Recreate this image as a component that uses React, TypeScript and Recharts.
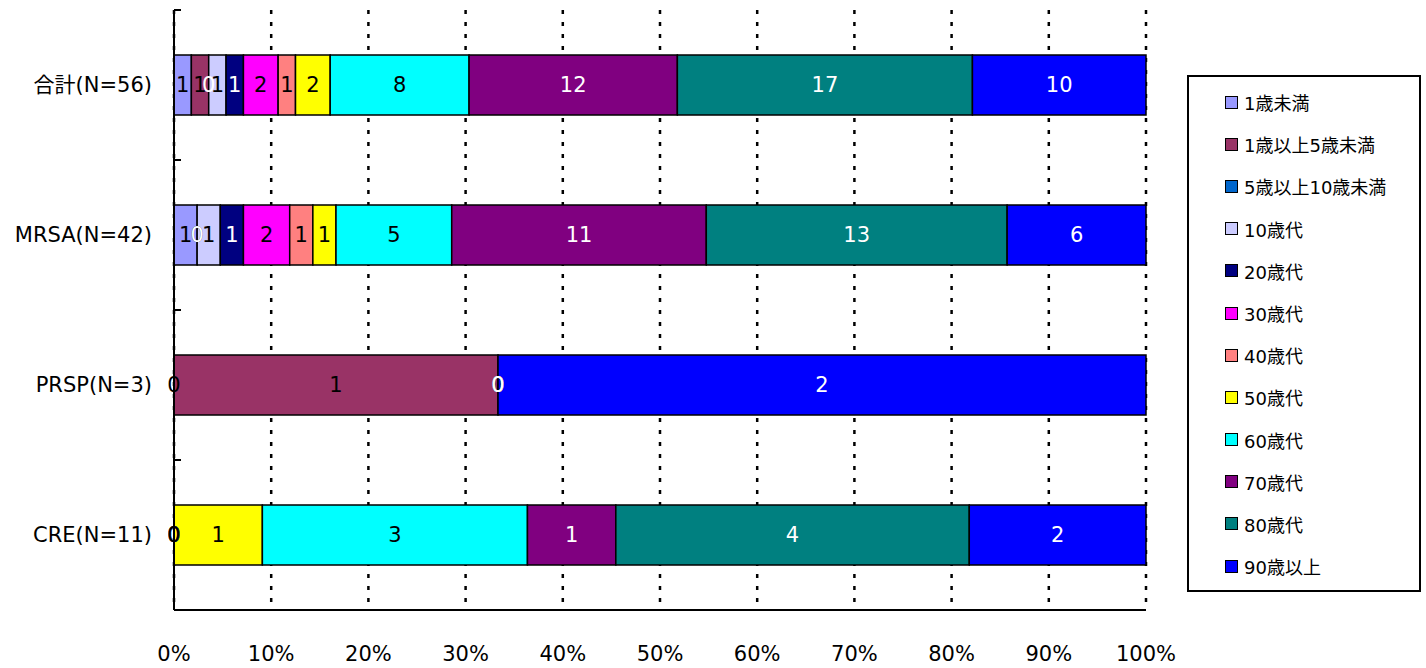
import React from "react";
import { BarChart, Bar, XAxis, YAxis, CartesianGrid, LabelList, Legend, Rectangle } from "recharts";

const categories = ["合計(N=56)", "MRSA(N=42)", "PRSP(N=3)", "CRE(N=11)"];
const ageGroups = [
    "1歳未満",
    "1歳以上5歳未満",
    "5歳以上10歳未満",
    "10歳代",
    "20歳代",
    "30歳代",
    "40歳代",
    "50歳代",
    "60歳代",
    "70歳代",
    "80歳代",
    "90歳以上",
];
const totalCounts = [1, 1, 0, 1, 1, 2, 1, 2, 8, 12, 17, 10];
const mrsaCounts = [1, 0, 0, 1, 1, 2, 1, 1, 5, 11, 13, 6];
const prspCounts = [0, 1, 0, 0, 0, 0, 0, 0, 0, 0, 0, 2];
const creCounts = [0, 0, 0, 0, 0, 0, 0, 1, 3, 1, 4, 2];
const xTicks = [0, 0.1, 0.2, 0.3, 0.4, 0.5, 0.6, 0.7, 0.8, 0.9, 1];

const COLORS = [
    "#9999ff", "#993366", "#0066cc", "#ccccff", "#000080", "#ff00ff",
    "#ff8080", "#ffff00", "#00ffff", "#800080", "#008080", "#0000ff",
];
const LABEL_COLORS = [
    "#000", "#000", "#fff", "#000", "#fff", "#000",
    "#000", "#000", "#000", "#fff", "#fff", "#fff",
];

const FONT = "'DejaVu Sans', 'Noto Sans CJK JP', sans-serif";
const LAST = ageGroups.length - 1;

const countsByCategory = [totalCounts, mrsaCounts, prspCounts, creCounts];
const rows = categories.map((name, c) => {
    const row: Record<string, string | number> = { name };
    ageGroups.forEach((_, i) => {
        row[`s${i}`] = countsByCategory[c][i];
    });
    return row;
});

// category label plus an inside tick at the top edge of each band
function CategoryTick(props: any) {
    const { x, y, payload } = props;
    const axisX = x + 22;
    const half = payload.offset ?? 75;
    return (
        <g>
            <line x1={axisX} x2={axisX + 7} y1={y - half} y2={y - half} stroke="#000" strokeWidth={2} />
            <text x={x} y={y} textAnchor="end" dominantBaseline="central" fontSize={21} fill="#000">
                {payload.value}
            </text>
        </g>
    );
}

// zero-width segments get no rect; the last segment (drawn on top of the row)
// also prints the "0" labels of the empty segments, as the original does
function makeShape(i: number) {
    return (props: any) => {
        const { x, y, width, height, payload } = props;
        const v = Number(payload?.[`s${i}`] ?? 0);
        if (v === 0) return <g />;
        if (i !== LAST) return <Rectangle {...props} />;

        const vals = ageGroups.map((_, k) => Number(payload[`s${k}`]));
        const total = vals.reduce((a, b) => a + b, 0);
        const plotW = (width * total) / v;
        const left = x + width - plotW;
        let cum = 0;
        const zeros: React.ReactNode[] = [];
        vals.forEach((val, k) => {
            if (val === 0) {
                zeros.push(
                    <text
                        key={k}
                        x={left + (plotW * cum) / total}
                        y={y + height / 2}
                        textAnchor="middle"
                        dominantBaseline="central"
                        fontSize={21}
                        fill={LABEL_COLORS[k]}
                    >
                        0
                    </text>
                );
            }
            cum += val;
        });
        return (
            <g>
                <Rectangle {...props} />
                {zeros}
            </g>
        );
    };
}

function AgeLegend({ payload }: any) {
    const items = [...(payload ?? [])].sort(
        (a: any, b: any) => ageGroups.indexOf(a.value) - ageGroups.indexOf(b.value)
    );
    return (
        <div
            style={{
                boxSizing: "border-box",
                width: "100%",
                height: "100%",
                border: "2px solid #000",
                paddingTop: 4,
                paddingLeft: 36,
                fontFamily: FONT,
                background: "#fff",
            }}
        >
            {items.map((p: any) => (
                <div key={p.value} style={{ height: 42.2, display: "flex", alignItems: "center" }}>
                    <span
                        style={{
                            boxSizing: "border-box",
                            width: 13,
                            height: 13,
                            border: "1.5px solid #000",
                            background: p.color,
                            marginRight: 6,
                        }}
                    />
                    <span style={{ fontSize: 18, color: "#000", whiteSpace: "nowrap" }}>{p.value}</span>
                </div>
            ))}
        </div>
    );
}

export default function App() {
    return (
        <div style={{ position: "absolute", left: 0, top: 0, width: 1426, height: 668, background: "#fff" }}>
            <BarChart
                width={1426}
                height={668}
                data={rows}
                layout="vertical"
                stackOffset="expand"
                barCategoryGap="30%"
                margin={{ top: 10, right: 280, bottom: 0, left: 0 }}
                style={{ fontFamily: FONT }}
            >
                <CartesianGrid
                    horizontal={false}
                    stroke="#000"
                    strokeWidth={2.5}
                    strokeDasharray="4 8"
                />
                <XAxis
                    type="number"
                    domain={[0, 1]}
                    ticks={xTicks}
                    tickFormatter={(v: number) => `${Math.round(v * 100)}%`}
                    tickLine={false}
                    tickMargin={30}
                    height={58}
                    axisLine={{ stroke: "#000", strokeWidth: 2 }}
                    tick={{ fill: "#000", fontSize: 21 }}
                    interval={0}
                />
                <YAxis
                    type="category"
                    dataKey="name"
                    width={174}
                    tickLine={false}
                    tickSize={6}
                    tickMargin={16}
                    axisLine={{ stroke: "#000", strokeWidth: 2 }}
                    tick={<CategoryTick />}
                    interval={0}
                />
                <Legend
                    layout="vertical"
                    align="center"
                    verticalAlign="middle"
                    content={<AgeLegend />}
                    wrapperStyle={{ left: 1187, top: 75, width: 234, height: 517 }}
                />
                {ageGroups.map((g, i) => (
                    <Bar
                        key={g}
                        dataKey={`s${i}`}
                        name={g}
                        stackId="a"
                        fill={COLORS[i]}
                        stroke="#000"
                        strokeWidth={1.5}
                        shape={makeShape(i)}
                        isAnimationActive={false}
                    >
                        <LabelList
                            dataKey={`s${i}`}
                            position="center"
                            fill={LABEL_COLORS[i]}
                            fontSize={21}
                            formatter={(v: any) => (v === 0 ? "" : v)}
                        />
                    </Bar>
                ))}
            </BarChart>
        </div>
    );
}
